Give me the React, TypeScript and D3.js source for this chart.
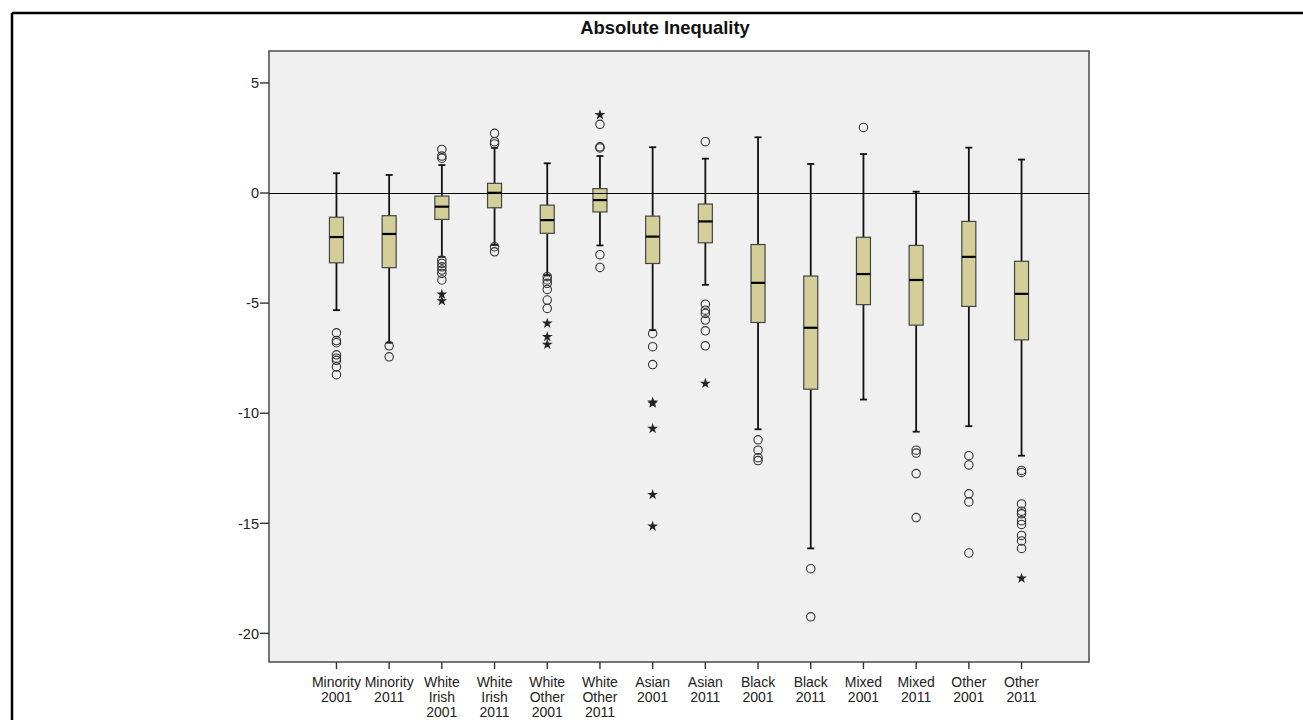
import * as d3 from "d3";
import React from "react";

// groups on the x axis (label lines)
const groups = [
  ["Minority", "2001"],
  ["Minority", "2011"],
  ["White", "Irish", "2001"],
  ["White", "Irish", "2011"],
  ["White", "Other", "2001"],
  ["White", "Other", "2011"],
  ["Asian", "2001"],
  ["Asian", "2011"],
  ["Black", "2001"],
  ["Black", "2011"],
  ["Mixed", "2001"],
  ["Mixed", "2011"],
  ["Other", "2001"],
  ["Other", "2011"],
];

// box statistics
const whiskerHigh = [0.9, 0.82, 1.27, 2.05, 1.35, 1.68, 2.08, 1.56, 2.53, 1.32, 1.77, 0.06, 2.06, 1.52];
const q3 = [-1.1, -1.03, -0.14, 0.44, -0.55, 0.2, -1.05, -0.5, -2.34, -3.77, -2.01, -2.38, -1.29, -3.1];
const median = [-2.0, -1.86, -0.62, 0.01, -1.23, -0.32, -1.98, -1.29, -4.08, -6.12, -3.68, -3.95, -2.9, -4.58];
const q1 = [-3.17, -3.39, -1.2, -0.67, -1.83, -0.86, -3.2, -2.26, -5.88, -8.91, -5.07, -6.0, -5.15, -6.67];
const whiskerLow = [-5.32, -6.8, -2.9, -2.36, -3.73, -2.38, -6.23, -4.17, -10.73, -16.14, -9.38, -10.84, -10.59, -11.93];

// outliers (circles)
const outliers = [
  [-6.35, -6.7, -6.8, -7.35, -7.5, -7.6, -7.9, -8.25],
  [-6.94, -7.44],
  [1.98, 1.68, 1.58, -3.05, -3.2, -3.35, -3.5, -3.65, -3.95],
  [2.71, 2.33, 2.23, -2.44, -2.67],
  [-3.8, -3.95, -4.1, -4.38, -4.86, -5.24],
  [3.12, 2.1, 2.05, -2.8, -3.38],
  [-6.38, -6.98, -7.79],
  [2.33, -5.05, -5.32, -5.47, -5.77, -6.26, -6.94],
  [-11.21, -11.68, -12.02, -12.15],
  [-17.06, -19.25],
  [2.98],
  [-11.68, -11.81, -12.74, -14.74],
  [-11.93, -12.35, -13.66, -14.03, -16.35],
  [-12.6, -12.69, -14.12, -14.45, -14.57, -14.88, -15.05, -15.55, -15.8, -16.14],
];

// extreme values (stars)
const extremes = [
  [],
  [],
  [-4.6, -4.9],
  [],
  [-5.92, -6.53, -6.88],
  [3.55],
  [-9.5, -9.55, -10.7, -13.7, -15.14],
  [-8.65],
  [],
  [],
  [],
  [],
  [],
  [-17.5],
];

const yTicks = [5, 0, -5, -10, -15, -20];
const title = "Absolute Inequality";

const W = 1303;
const H = 720;
const plot = { left: 269, top: 51, right: 1089, bottom: 662 };

export default function App() {
  const x = d3
    .scalePoint<number>()
    .domain(d3.range(groups.length))
    .range([plot.left, plot.right])
    .padding(1.28);

  const y = d3
    .scaleLinear()
    .domain([-21.3, 6.45])
    .range([plot.bottom, plot.top]);

  const star = d3.symbol().type(d3.symbolStar).size(36)();
  const boxW = 14;
  const capW = 7;
  const font = "Arial, 'Liberation Sans', sans-serif";

  return (
    <svg
      width={W}
      height={H}
      style={{ position: "absolute", left: 0, top: 0, background: "#fff" }}
      fontFamily={font}
    >
      {/* outer frame */}
      <line x1={12} y1={13} x2={W} y2={13} stroke="#000" strokeWidth={2.5} />
      <line x1={12} y1={13} x2={12} y2={H} stroke="#000" strokeWidth={2.5} />

      <text x={665} y={34} textAnchor="middle" fontSize={18.4} fontWeight="bold" fill="#111">
        {title}
      </text>

      {/* plot area */}
      <rect
        x={plot.left}
        y={plot.top}
        width={plot.right - plot.left}
        height={plot.bottom - plot.top}
        fill="#f0f0f0"
        stroke="#4a4a4a"
        strokeWidth={1.5}
      />

      {/* y axis */}
      {yTicks.map((t) => (
        <g key={t}>
          <line x1={plot.left - 9} x2={plot.left} y1={y(t)} y2={y(t)} stroke="#333" strokeWidth={1.4} />
          <text x={plot.left - 10} y={y(t)} dy="0.36em" textAnchor="end" fontSize={14.5} fill="#222">
            {t}
          </text>
        </g>
      ))}

      {/* x axis */}
      {groups.map((g, i) => (
        <g key={i}>
          <line x1={x(i)} x2={x(i)} y1={plot.bottom} y2={plot.bottom + 7} stroke="#333" strokeWidth={1.4} />
          {g.map((s, j) => (
            <text key={j} x={x(i)} y={plot.bottom + 25 + j * 15} textAnchor="middle" fontSize={14} fill="#222">
              {s}
            </text>
          ))}
        </g>
      ))}

      {/* boxes */}
      {groups.map((_, i) => {
        const cx = x(i) as number;
        return (
          <g key={i}>
            <line x1={cx} x2={cx} y1={y(whiskerHigh[i])} y2={y(q3[i])} stroke="#111" strokeWidth={1.8} />
            <line x1={cx} x2={cx} y1={y(q1[i])} y2={y(whiskerLow[i])} stroke="#111" strokeWidth={1.8} />
            <line x1={cx - capW / 2} x2={cx + capW / 2} y1={y(whiskerHigh[i])} y2={y(whiskerHigh[i])} stroke="#111" strokeWidth={1.8} />
            <line x1={cx - capW / 2} x2={cx + capW / 2} y1={y(whiskerLow[i])} y2={y(whiskerLow[i])} stroke="#111" strokeWidth={1.8} />
            <rect
              x={cx - boxW / 2}
              y={y(q3[i])}
              width={boxW}
              height={y(q1[i]) - y(q3[i])}
              fill="#d4cf98"
              stroke="#444"
              strokeWidth={1.2}
            />
            <line x1={cx - boxW / 2} x2={cx + boxW / 2} y1={y(median[i])} y2={y(median[i])} stroke="#000" strokeWidth={2.2} />
            {outliers[i].map((v, k) => (
              <circle key={"o" + k} cx={cx} cy={y(v)} r={4.2} fill="none" stroke="#333" strokeWidth={1.1} />
            ))}
            {extremes[i].map((v, k) => (
              <path key={"e" + k} d={star as string} transform={`translate(${cx},${y(v)})`} fill="#222" />
            ))}
          </g>
        );
      })}

      {/* zero reference line */}
      <line
        x1={plot.left}
        x2={plot.right}
        y1={Math.round(y(0)) + 0.5}
        y2={Math.round(y(0)) + 0.5}
        stroke="#000"
        strokeWidth={1}
      />
    </svg>
  );
}
